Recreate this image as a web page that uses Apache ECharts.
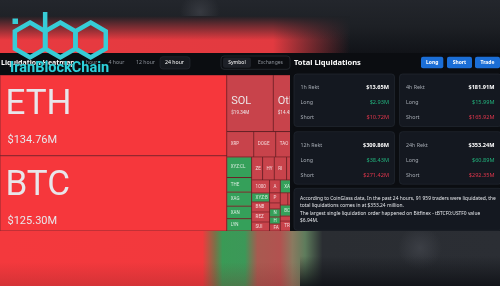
<!DOCTYPE html>
<html><head><meta charset="utf-8">
<script src="https://cdn.jsdelivr.net/npm/echarts@6/dist/echarts.min.js"></script>
<style>html,body{margin:0;padding:0;background:#0b0d11;overflow:hidden}#c{width:500px;height:286px}</style>
</head><body><div id="c"></div>
<script>
// ---------- data ----------
const symbols = ['ETH','BTC','SOL','Other','XRP','DOGE','TAO','ENA',
  'XYZ:CL','THE','XAG','XAN','LYN',
  'ZEC','HYPE','RIVER','WLD',
  '1000PEPE','XYZ:BTC','BNB','REZ','SUI',
  'ASTER','XAU','ADA','AVAX',
  'PEPE','SIREN','NEO','HYPER','FARTCOIN',
  'GIGA','LTC','PUMP','BCH','BERA','TRUMP','BNT','WIF','ONDO','AAVE'];
const liquidations = [134.76,125.30,19.34,14.45,5.04,4.10,3.90,2.12,
  3.76,2.66,2.57,2.29,2.25,
  1.86,1.96,2.09,3.61,
  1.72,1.19,1.32,1.32,1.19,
  1.02,1.37,0.66,0.61,
  0.79,0.47,0.63,0.55,0.55,
  0.68,1.30,0.50,1.00,0.45,0.90,0.50,0.80,0.86,0.80];
const dominantSide = ['short','short','short','short','short','short','short','short',
  'long','long','long','long','long',
  'short','short','short','short',
  'short','long','short','short','short',
  'short','long','short','long',
  'short','short','long','long','short',
  'short','short','long','long','short','short','long','short','short','short'];
const timeTabs = ['1 hour','4 hour','12 hour','24 hour'];
const periods = ['1h','4h','12h','24h'];
const rektTotal = [13.65,181.91,309.86,353.24];
const rektLong = [2.93,15.99,38.43,60.89];
const rektShort = [10.72,165.92,271.42,292.35];
const tradersLiquidated = '91 959';
const largest = {exchange:'Bitfinex', symbol:'tBTCF0:USTF0', value:6.94};

// ---------- styles ----------
const RED_HI = '#f6373c', RED = '#c8434b', GREEN = '#35a05a';
const UI = '"Noto Sans", Roboto, sans-serif';
const fmt = v => '$' + v.toFixed(2) + 'M';

const treeData = symbols.map((n, i) => {
  const v = liquidations[i];
  const color = dominantSide[i] === 'long' ? GREEN : (v >= 100 ? RED_HI : RED);
  let label;
  if (v >= 100) {
    label = {position:'insideTopLeft', distance:0, padding:[3,0,0,5],
      formatter: p => '{n|' + p.name + '}\n{v|' + fmt(p.value) + '}',
      rich:{n:{fontSize:35,lineHeight:54,color:'#e8e6ea',fontFamily:'Roboto'},
            v:{fontSize:11,lineHeight:15,color:'#e8e6ea',fontFamily:'Roboto',padding:[0,0,0,2]}}};
  } else if (v >= 10) {
    label = {position:'insideTopLeft', distance:0, padding:[19,0,0,4],
      formatter: p => '{n|' + p.name + '}\n{v|' + fmt(p.value) + '}',
      rich:{n:{fontSize:11,lineHeight:14,color:'#ece4e6',fontFamily:'Roboto'},
            v:{fontSize:4.6,lineHeight:8,color:'#ece4e6',fontFamily:'Roboto'}}};
  } else {
    label = {position:'insideLeft', distance:0, padding:[0,0,0,3.5], fontSize:4.5,
      fontFamily:'Roboto', color:'rgba(255,255,255,0.8)', formatter:'{b}',
      overflow:'truncate', ellipsis:''};
  }
  return {name:n, value:v, itemStyle:{color}, label};
});

// ---------- graphics ----------
const g = [];
const lg = (x0,y0,x1,y1,stops) => ({type:'linear',x:x0,y:y0,x2:x1,y2:y1,colorStops:stops.map(s=>({offset:s[0],color:s[1]}))});
const rg = (stops) => ({type:'radial',x:0.5,y:0.5,r:0.5,colorStops:stops.map(s=>({offset:s[0],color:s[1]}))});
// top blurred band
g.push({type:'rect',z:0,shape:{x:0,y:0,width:500,height:53},style:{fill:lg(0,0,0,1,[[0,'#23262c'],[0.5,'#1d2025'],[1,'#111318']])}});
g.push({type:'ellipse',z:0,shape:{cx:200,cy:12,rx:170,ry:20},style:{fill:rg([[0,'rgba(62,65,72,0.75)'],[1,'rgba(62,65,72,0)']])}});
g.push({type:'rect',z:0,shape:{x:0,y:16,width:350,height:37},style:{fill:lg(0,0,1,0,[[0,'rgba(232,58,64,1)'],[0.78,'rgba(226,58,64,1)'],[1,'rgba(200,58,64,0)']])}});
g.push({type:'rect',z:0,shape:{x:0,y:16,width:350,height:24},style:{fill:lg(0,0,0,1,[[0,'rgba(30,33,38,1)'],[1,'rgba(30,33,38,0)']])}});
// bottom blurred band
g.push({type:'rect',z:0,shape:{x:0,y:231,width:500,height:55},style:{fill:lg(0,0,1,0,[
  [0,'#f4393d'],[0.405,'#f2393d'],[0.43,'#7d7048'],[0.445,'#3a9a56'],[0.49,'#3c9858'],[0.515,'#a85a50'],
  [0.56,'#b25250'],[0.585,'#8a7a60'],[0.61,'#5e7c5c'],[0.645,'#2a2d32'],[1,'#2b2e34']])}});
g.push({type:'ellipse',z:0,shape:{cx:420,cy:248,rx:120,ry:22},style:{fill:rg([[0,'rgba(64,67,74,0.8)'],[1,'rgba(64,67,74,0)']])}});
g.push({type:'rect',z:0,shape:{x:300,y:256,width:200,height:30},style:{fill:lg(0,0,0,1,[[0,'rgba(16,18,23,0)'],[1,'rgba(16,18,23,0.9)']])}});
g.push({type:'rect',z:0,shape:{x:0,y:262,width:300,height:24},style:{fill:lg(0,0,0,1,[[0,'rgba(120,30,35,0)'],[1,'rgba(120,30,35,0.25)']])}});
// header band & right panel
g.push({type:'rect',z:10,shape:{x:0,y:53,width:500,height:22},style:{fill:'#0b0d11'}});
g.push({type:'rect',z:10,shape:{x:290,y:53,width:210,height:178},style:{fill:'#0b0d11'}});
g.push({type:'text',z:11,style:{text:'Liquidation Heatmap',x:1,y:62.5,fill:'#ffffff',font:'bold 7px '+UI,textVerticalAlign:'middle'}});
const tabX = [89.5,116.5,145.5,174.5];
g.push({type:'rect',z:11,shape:{x:160,y:56.7,width:30,height:12.3,r:3},style:{fill:'#16191f',stroke:'#2a2e36',lineWidth:0.6}});
timeTabs.forEach((t,i)=>g.push({type:'text',z:12,style:{text:t,x:tabX[i],y:63,fill:i===3?'#ffffff':'#8d929a',font:'5.2px '+UI,textAlign:'center',textVerticalAlign:'middle'}}));
g.push({type:'rect',z:11,shape:{x:221,y:56,width:69,height:13.3,r:3},style:{fill:'#0b0d11',stroke:'#2c3038',lineWidth:0.7}});
g.push({type:'rect',z:11,shape:{x:223,y:57.5,width:28,height:10.3,r:2},style:{fill:'#1d2027'}});
g.push({type:'text',z:12,style:{text:'Symbol',x:237,y:62.7,fill:'#ffffff',font:'5px '+UI,textAlign:'center',textVerticalAlign:'middle'}});
g.push({type:'text',z:12,style:{text:'Exchanges',x:270.5,y:62.7,fill:'#8d929a',font:'5px '+UI,textAlign:'center',textVerticalAlign:'middle'}});
g.push({type:'text',z:11,style:{text:'Total Liquidations',x:294,y:62.5,fill:'#ffffff',font:'bold 7.5px '+UI,textVerticalAlign:'middle'}});
[['Long',421,22.3],['Short',447,25],['Trade',475,25]].forEach(b=>{
  g.push({type:'rect',z:11,shape:{x:b[1],y:56.7,width:b[2],height:11.6,r:2},style:{fill:'#1b6ed6'}});
  g.push({type:'text',z:12,style:{text:b[0],x:b[1]+b[2]/2,y:62.6,fill:'#ffffff',font:'bold 5px '+UI,textAlign:'center',textVerticalAlign:'middle'}});
});
// cards
const cardPos = [[294,74],[399.5,74],[294,131.7],[399.5,131.7]];
periods.forEach((p,i)=>{
  const [x,y] = cardPos[i];
  g.push({type:'rect',z:11,shape:{x:x,y:y,width:i%2?102:100.5,height:52.5,r:3},style:{fill:'#141820',stroke:'#232831',lineWidth:0.7}});
  const L = x+6.5, R = x+95;
  const rows = [[p+' Rekt',fmt(rektTotal[i]),'#ffffff',true],['Long',fmt(rektLong[i]),'#22b27c',false],['Short',fmt(rektShort[i]),'#e0364c',false]];
  rows.forEach((r,j)=>{
    const yy = y+13.3+15*j;
    g.push({type:'text',z:12,style:{text:r[0],x:L,y:yy,fill:'#a6abb3',font:'5.3px '+UI,textVerticalAlign:'middle'}});
    g.push({type:'text',z:12,style:{text:r[1],x:R,y:yy,fill:r[2],font:(r[3]?'bold ':'')+'5.6px '+UI,textAlign:'right',textVerticalAlign:'middle'}});
  });
});
g.push({type:'rect',z:11,shape:{x:294,y:188.3,width:208,height:42,r:3},style:{fill:'#141820',stroke:'#232831',lineWidth:0.7}});
const info = [
  'According to CoinGlass data, In the past 24 hours, ' + tradersLiquidated + ' traders were liquidated, the',
  'total liquidations comes in at $' + rektTotal[3].toFixed(2) + ' million.',
  'The largest single liquidation order happened on ' + largest.exchange + ' - ' + largest.symbol + ' value',
  '$' + largest.value.toFixed(2) + 'M.'];
const infoY = [198.3,205.5,213.3,220.7];
info.forEach((t,i)=>g.push({type:'text',z:12,style:{text:t,x:300,y:infoY[i],fill:'#e4e6ea',font:'4.9px '+UI,textVerticalAlign:'middle'}}));
// watermark logo
const CY = '#37ccd6';
const hex = (cx,cy,r) => { const pts=[]; for(let k=0;k<6;k++){const a=Math.PI/180*(60*k-90); pts.push([cx+r*Math.cos(a),cy+r*Math.sin(a)]);} return pts; };
const logoStroke = {stroke:CY,lineWidth:4.5,fill:null,lineJoin:'miter'};
const HR = 17.5, HW = Math.sqrt(3)*HR;
const h1 = hex(30,40,HR), h2 = hex(30+HW,40,HR), h3 = hex(30+2*HW,40,HR);
g.push({type:'rect',z:20,shape:{x:12.5,y:18.5,width:5.5,height:5.5},style:{fill:CY}});
[h1,h2,h3].forEach(h=>g.push({type:'polygon',z:20,shape:{points:h},style:logoStroke}));
g.push({type:'polyline',z:20,shape:{points:[[h2[4][0],h2[4][1]],[h2[4][0],12]]},style:logoStroke});
g.push({type:'text',z:21,style:{text:'IranBlockChain',x:10,y:68,fill:'#2fd0da',font:'bold 14.5px Roboto',textVerticalAlign:'middle',stroke:'rgba(0,40,45,0.6)',lineWidth:0.8}});

// ---------- chart ----------
const chart = echarts.init(document.getElementById('c'), null, {renderer:'canvas'});
chart.setOption({
  backgroundColor:'#0b0d11',
  animation:false,
  graphic:{elements:g},
  series:[{
    type:'treemap', left:0, top:75, width:308, height:156,
    roam:false, nodeClick:false, sort:false,
    breadcrumb:{show:false},
    squareRatio:0.5*(1+Math.sqrt(5)),
    visibleMin:1,
    levels:[
      {itemStyle:{borderWidth:0,gapWidth:0,borderColor:'#0b0d11'}},
      {itemStyle:{borderWidth:0.5,gapWidth:0,borderColor:'#8e2a30'}}
    ],
    label:{show:true},
    emphasis:{disabled:true},
    data:treeData
  }]
});
</script></body></html>
